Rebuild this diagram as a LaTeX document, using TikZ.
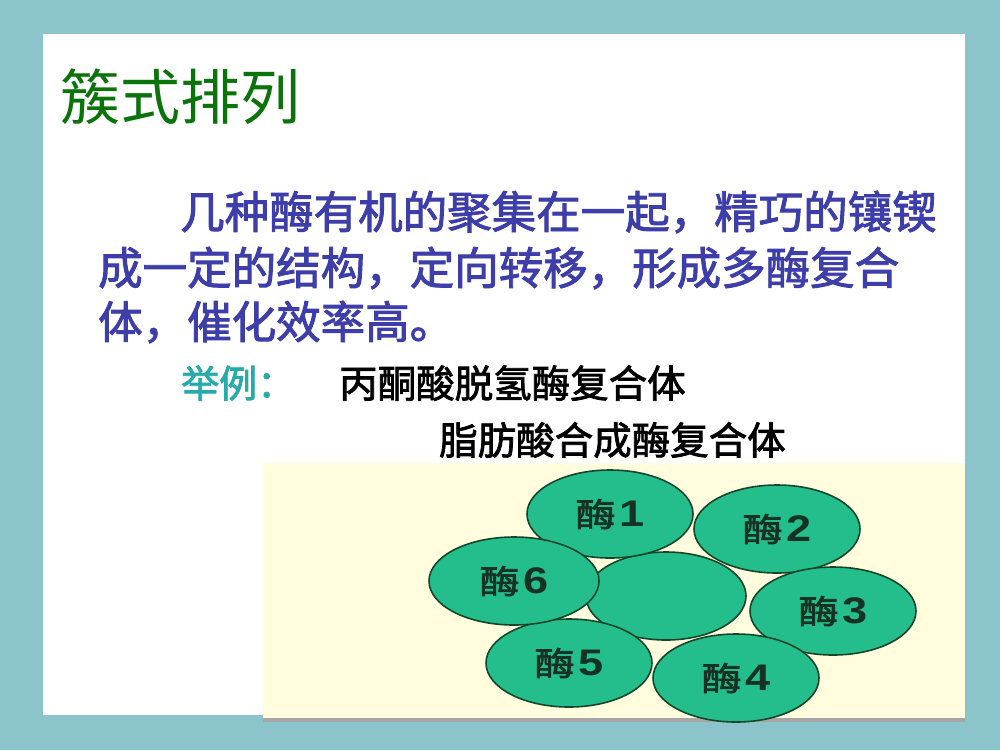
\documentclass[tikz,border=0pt]{standalone}
\usepackage{fontspec}
\usepackage{graphicx}
\newfontfamily\cjk{Noto Sans CJK SC}
\newfontfamily\cjkbold[FakeBold=2]{Noto Sans CJK SC}
\newfontfamily\digits{Liberation Sans}
\usetikzlibrary{shapes.geometric}
\definecolor{slidebg}{RGB}{140, 196, 204}
\definecolor{titlegreen}{RGB}{10, 115, 10}
\definecolor{textblue}{RGB}{62, 62, 170}
\definecolor{exteal}{RGB}{40, 170, 170}
\definecolor{panelfill}{RGB}{255, 253, 222}
\definecolor{enzfill}{RGB}{36, 190, 140}
\definecolor{enzline}{RGB}{22, 70, 42}
\definecolor{enztext}{RGB}{22, 50, 36}
\newcommand{\enzlabel}[1]{\scalebox{1.22}[1]{{\cjkbold 酶}\hspace{3pt}{\digits\bfseries\fontsize{37}{37}\selectfont #1}}}
\begin{document}
\begin{tikzpicture}[x=1pt, y=-1pt,
  enzyme/.style = {ellipse, draw = enzline, line width = 1.6pt, fill = enzfill,
    minimum width = 166pt, minimum height = 88pt, inner sep = 0pt,
    text = enztext, font = \fontsize{33}{33}\selectfont},
  bodyline/.style = {anchor = west, inner sep = 0pt, text = textblue,
    font = \fontsize{44.5}{50}\selectfont\cjkbold}]
\useasboundingbox (0,0) rectangle (1000,750);
\fill[slidebg] (0,0) rectangle (1000,750);
\fill[white] (43,34) rectangle (965,715);
% title
\node [anchor = west, inner sep = 0pt, text = titlegreen, font = \fontsize{60}{60}\selectfont\cjk] (title) at (60,97) {簇式排列};
% text
\node [bodyline] (line1) at (180,212) {几种酶有机的聚集在一起，精巧的镶锲};
\node [bodyline] (line2) at (98,268) {成一定的结构，定向转移，形成多酶复合};
\node [bodyline] (line3) at (98,322) {体，催化效率高。};
\node [anchor = west, inner sep = 0pt, text = exteal, font = \fontsize{38}{40}\selectfont\cjkbold] (ex) at (181,383) {举例：};
\node [anchor = west, inner sep = 0pt, font = \fontsize{38.5}{40}\selectfont\cjkbold] (pdh) at (339,383) {丙酮酸脱氢酶复合体};
\node [anchor = west, inner sep = 0pt, font = \fontsize{38.5}{40}\selectfont\cjkbold] (fas) at (439,440) {脂肪酸合成酶复合体};
% enzyme complex
\fill[black!35] (263,716) rectangle (965,722);
\fill[panelfill] (263,463) rectangle (965,718);
\node [enzyme, minimum width = 160pt] (core) at (666,596) {};
\node [enzyme] (e1) at (610,514) {\enzlabel{1}};
\node [enzyme] (e2) at (777,529) {\enzlabel{2}};
\node [enzyme] (e3) at (833,611) {\enzlabel{3}};
\node [enzyme] (e4) at (736,678) {\enzlabel{4}};
\node [enzyme] (e5) at (569,663) {\enzlabel{5}};
\node [enzyme, minimum width = 170pt] (e6) at (514,581) {\enzlabel{6}};
\end{tikzpicture}
\end{document}
